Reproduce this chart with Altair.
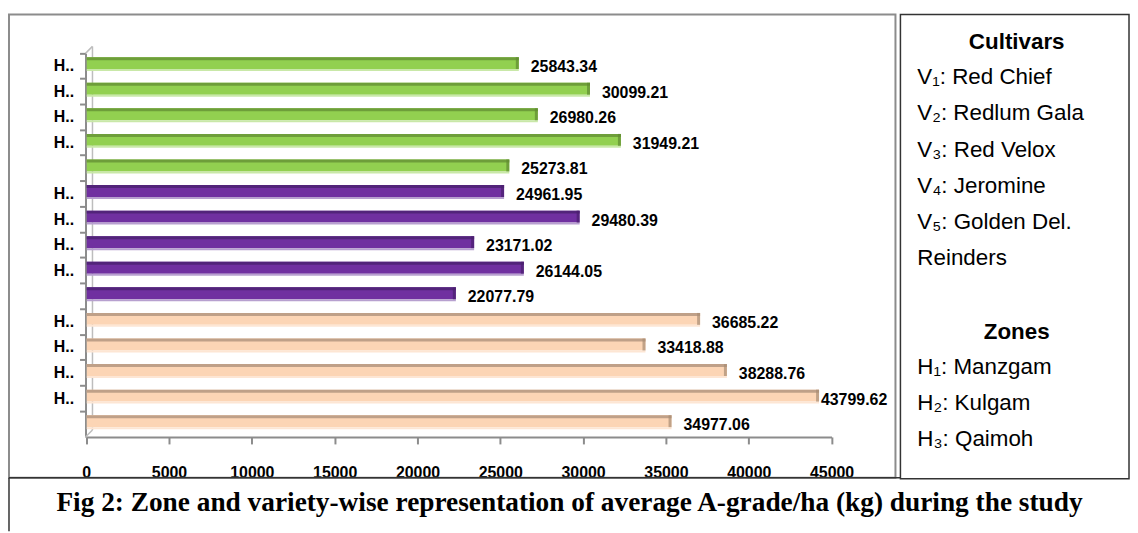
import json
import altair as alt
import pandas as pd

# ---------------- data ----------------
values = [25843.34, 30099.21, 26980.26, 31949.21, 25273.81,
          24961.95, 29480.39, 23171.02, 26144.05, 22077.79,
          36685.22, 33418.88, 38288.76, 43799.62, 34977.06]
groups = ["G1", "G1", "G1", "G1", "G1",
          "G2", "G2", "G2", "G2", "G2",
          "G3", "G3", "G3", "G3", "G3"]
row_labels = ["H..", "H..", "H..", "H..", "",
              "H..", "H..", "H..", "H..", "",
              "H..", "H..", "H..", "H..", ""]
x_ticks = [0, 5000, 10000, 15000, 20000, 25000, 30000, 35000, 40000, 45000]
cultivar_title = "Cultivars"
cultivar_lines = ["V\u2081: Red Chief", "V\u2082: Redlum Gala", "V\u2083: Red Velox",
                  "V\u2084: Jeromine", "V\u2085: Golden Del.", "Reinders"]
zone_title = "Zones"
zone_lines = ["H\u2081: Manzgam", "H\u2082: Kulgam", "H\u2083: Qaimoh"]
caption = "Fig 2: Zone and variety-wise representation of average A-grade/ha (kg) during the study"

# ---------------- styles ----------------
group_names = ["G1", "G2", "G3"]
face_colors = ["#92D050", "#7030A0", "#FCD5B5"]
top_colors = ["#6E9E3A", "#52247A", "#BFA088"]
bottom_colors = ["#C9E8A8", "#B7A0CF", "#FDE6D4"]
cap_colors = ["#5F8A30", "#4A1F6E", "#A88C74"]
SANS = "Liberation Sans, Arial, sans-serif"
W, H = 1129, 525
AXIS_Y = 430
AXIS_X = 78

df = pd.DataFrame({"row": list(range(len(values))), "value": values, "group": groups})
one = pd.DataFrame({"k": [0]})

label_expr = json.dumps(row_labels) + "[datum.value]"

y_enc = alt.Y("row:O",
              scale=alt.Scale(domain=list(range(len(values))), range=[44, 430],
                              paddingInner=0, paddingOuter=0),
              axis=alt.Axis(title=None, labelExpr=label_expr, bandPosition=0,
                            domainColor="#8c8c8c", domainWidth=2, tickColor="#8c8c8c",
                            tickWidth=2, tickSize=6, labelFont=SANS, labelFontSize=16,
                            labelFontWeight="bold", labelColor="black", labelPadding=6,
                            offset=-AXIS_X))

# floor (tick) scale used by the value axis
axis_layer = alt.Chart(df).mark_point(opacity=0).encode(
    x=alt.X("value:Q",
            scale=alt.Scale(domain=[0, 45000], range=[78.7, 828.7], nice=False, zero=True),
            axis=alt.Axis(values=x_ticks, format="d", grid=False, title=None,
                          domainColor="#8c8c8c", domainWidth=2, tickColor="#8c8c8c",
                          tickWidth=2, tickSize=7, labelFont=SANS, labelFontSize=16,
                          labelFontWeight="bold", labelColor="black", labelPadding=21,
                          labelFlush=False, labelOverlap=False, offset=-(H - AXIS_Y))),
    y=y_enc)

# front-face scale of the 3-D bars
bar_x = alt.X("value:Q",
              scale=alt.Scale(domain=[0, 45000], range=[79.2, 836.3], nice=False, zero=True),
              axis=None)
base = alt.Chart(df).encode(x=bar_x, y=y_enc)

def gcolor(rng):
    return alt.Color("group:N", scale=alt.Scale(domain=group_names, range=rng), legend=None)

bars = base.mark_bar(size=12, yOffset=-3).encode(color=gcolor(face_colors))
bars_top = base.mark_bar(size=3, yOffset=-7.5).encode(color=gcolor(top_colors))
bars_bottom = base.mark_bar(size=2, yOffset=4).encode(color=gcolor(bottom_colors))
bars_cap = base.mark_tick(orient="vertical", size=12, thickness=3, yOffset=-3, xOffset=-1.5).encode(
    color=gcolor(cap_colors))
labels = alt.Chart(df).transform_calculate(
    lx="min(datum.value, 43200)"
).mark_text(align="left", baseline="middle", dx=12, dy=1, font=SANS,
            fontSize=16, fontWeight="bold", color="black").encode(
    x=alt.X("lx:Q", scale=alt.Scale(domain=[0, 45000], range=[79.2, 836.3], nice=False, zero=True),
            axis=None),
    y=y_enc,
    text=alt.Text("value:Q", format=".2f"))

# back wall of the 3-D plot
wall = alt.Chart(one).mark_rule(color="#bdbdbd", strokeWidth=1.5).encode(
    x=alt.value(85), x2=alt.value(85), y=alt.value(37), y2=alt.value(423))
wall_top = alt.Chart(one).mark_rule(color="#bdbdbd", strokeWidth=1.5).encode(
    x=alt.value(78), x2=alt.value(85), y=alt.value(44), y2=alt.value(37))
wall_bot = alt.Chart(one).mark_rule(color="#bdbdbd", strokeWidth=1.5).encode(
    x=alt.value(78), x2=alt.value(85), y=alt.value(430), y2=alt.value(423))

# frames
chart_box = alt.Chart(one).mark_rect(fill="transparent", stroke="#8c8c8c", strokeWidth=2).encode(
    x=alt.value(1), x2=alt.value(893), y=alt.value(5), y2=alt.value(471))
legend_box = alt.Chart(one).mark_rect(fill="transparent", stroke="#333333", strokeWidth=1.5).encode(
    x=alt.value(898), x2=alt.value(W - 1), y=alt.value(5), y2=alt.value(472))
cap_line_h = alt.Chart(one).mark_rule(color="#333333", strokeWidth=1.5).encode(
    x=alt.value(1), x2=alt.value(898), y=alt.value(471), y2=alt.value(471))
cap_line_v = alt.Chart(one).mark_rule(color="#333333", strokeWidth=1.5).encode(
    x=alt.value(1), x2=alt.value(1), y=alt.value(471), y2=alt.value(H))

def txt(s, x, y, size, weight="normal", align="left", font=SANS, baseline="middle"):
    return alt.Chart(pd.DataFrame({"t": [s]})).mark_text(
        align=align, baseline=baseline, font=font, fontSize=size, fontWeight=weight,
        color="black").encode(text="t:N", x=alt.value(x), y=alt.value(y))

legend_layers = [txt(cultivar_title, 1015, 33, 22.5, "bold", "center")]
cy = [68, 104.4, 140.8, 177.2, 213.6, 250]
for s, y in zip(cultivar_lines, cy):
    legend_layers.append(txt(s, 915, y, 22.5))
legend_layers.append(txt(zone_title, 1015, 324, 22.5, "bold", "center"))
zy = [360, 396, 432]
for s, y in zip(zone_lines, zy):
    legend_layers.append(txt(s, 915, y, 22.5))

cap_text = txt(caption, 565, 505, 27.5, "bold", "center",
               font="Liberation Serif, Times New Roman, serif", baseline="alphabetic")

chart = alt.layer(
    chart_box, legend_box, cap_line_h, cap_line_v,
    wall, wall_top, wall_bot, axis_layer,
    bars, bars_bottom, bars_top, bars_cap, labels,
    *legend_layers, cap_text
).resolve_scale(color="independent", x="independent").properties(
    width=W, height=H, autosize=alt.AutoSizeParams(type="none"), padding=0
).configure_view(stroke=None)

chart.save("out.html", embed_options={"renderer": "svg", "actions": False})
